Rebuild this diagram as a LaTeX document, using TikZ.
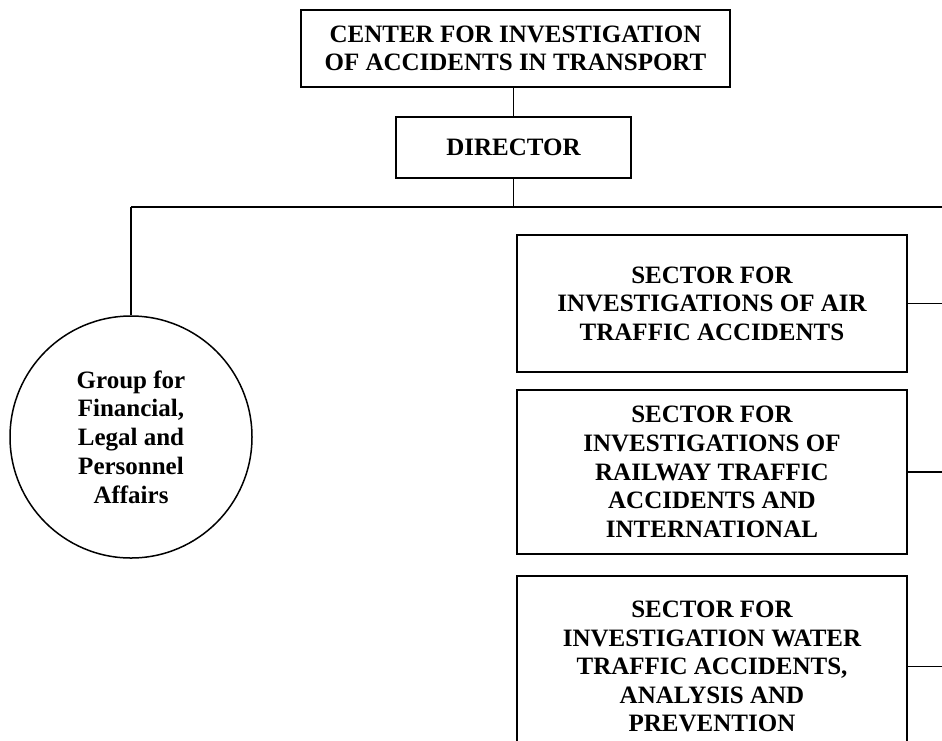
\documentclass[tikz,border=0pt]{standalone}
\usepackage{fontspec}
\setmainfont{Liberation Serif}
\begin{document}
\begin{tikzpicture}[x=1pt, y=-1pt]
	\tikzset{boite/.style={rectangle, draw=black, line width=1.5pt, align=center, inner sep=0pt, font=\bfseries\fontsize{25}{28.6}\selectfont}, cercle/.style={circle, draw=black, line width=1.5pt, align=center, inner sep=0pt, minimum size=242pt, font=\bfseries\fontsize{25}{28.8}\selectfont}, trait/.style={line width=1.5pt}};

	\useasboundingbox (0,0) rectangle (942,740);
	\clip (0,0) rectangle (942,740);

	\node[boite, minimum width=429pt, minimum height=77pt] (centre) at (515.5,  48.5) {CENTER FOR INVESTIGATION\\OF ACCIDENTS IN TRANSPORT};
	\node[boite, minimum width=235pt, minimum height=61pt] (directeur) at (513.5, 147.5) {DIRECTOR};

	\node[cercle] (groupe) at (131, 437) {Group for\\Financial,\\Legal and\\Personnel\\Affairs};

	\node[boite, minimum width=390pt, minimum height=137pt] (air) at (712, 303.5) {SECTOR FOR\\INVESTIGATIONS OF AIR\\TRAFFIC ACCIDENTS};
	\node[boite, minimum width=390pt, minimum height=164pt] (rail) at (712,   472) {SECTOR FOR\\INVESTIGATIONS OF\\RAILWAY TRAFFIC\\ACCIDENTS AND\\INTERNATIONAL};
	\node[boite, minimum width=390pt, minimum height=181pt] (eau) at (712, 666.5) {SECTOR FOR\\INVESTIGATION WATER\\TRAFFIC ACCIDENTS,\\ANALYSIS AND\\PREVENTION};

	\coordinate (bus) at (513.5, 207);
	\coordinate (busg) at (131, 207);
	\coordinate (busd) at (942, 207);

	\draw[trait] (directeur.north) -- (directeur.north |- centre.south);
	\draw[trait] (directeur.south) -- (bus);
	\draw[trait] (busg) -- (busd);
	\draw[trait] (busg) -- (groupe);
	\draw[trait] (air.east) -- (air.east -| busd);
	\draw[trait] (rail.east) -- (rail.east -| busd);
	\draw[trait] (eau.east) -- (eau.east -| busd);
\end{tikzpicture}
\end{document}
